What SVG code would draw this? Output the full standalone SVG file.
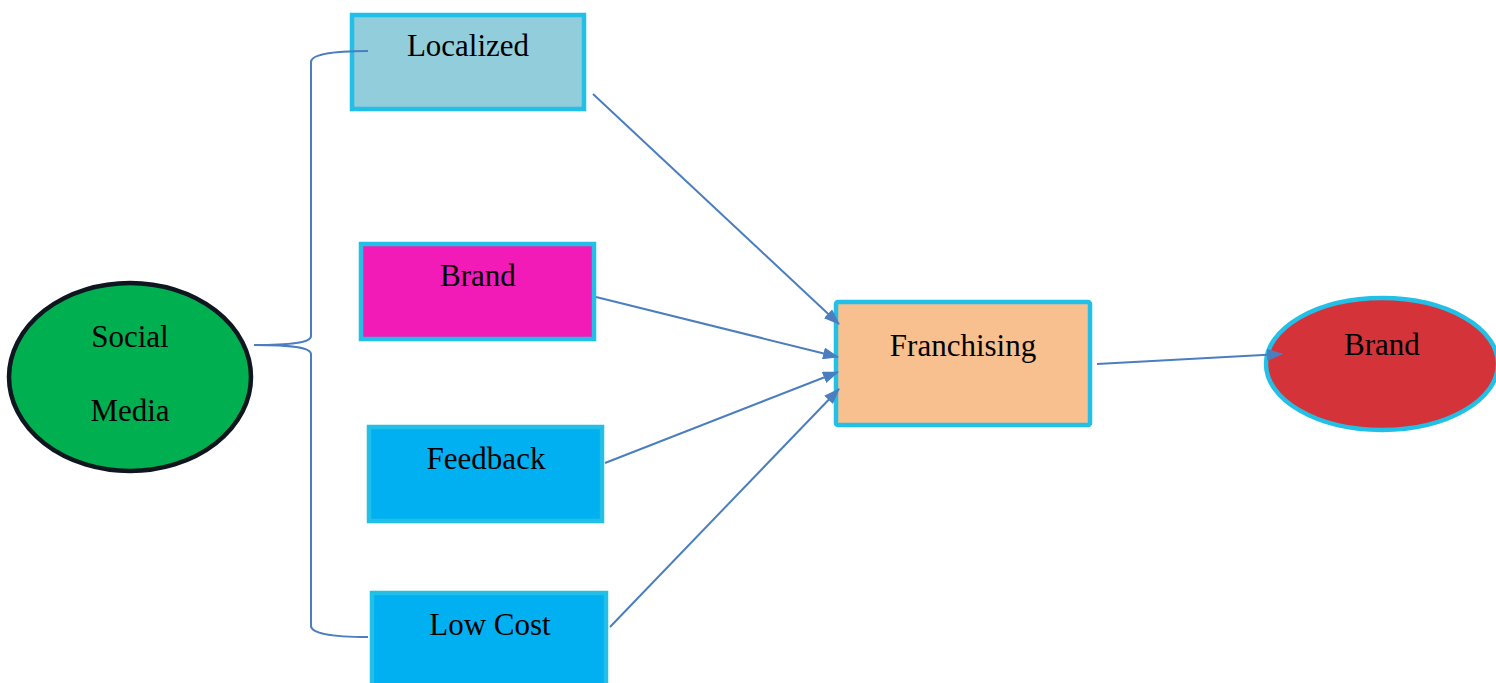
<svg xmlns="http://www.w3.org/2000/svg" width="1496" height="683" viewBox="0 0 1496 683">
<style>
.box{stroke:#22BFE6;stroke-width:4.5}
.lbl{font-family:"Liberation Serif","Times New Roman",serif;font-size:31px;fill:#000;text-anchor:middle}
.conn{fill:none;stroke:#4A7EBF;stroke-width:2}
</style>
<defs>
<marker id="arr" viewBox="0 0 16 12" refX="15" refY="6" markerWidth="16" markerHeight="12" markerUnits="userSpaceOnUse" orient="auto"><path d="M0,0 L16,6 L0,12 z" fill="#4A7EBF"/></marker>
</defs>
<rect width="1496" height="683" fill="#fff"/>
<g id="social-media">
<ellipse cx="130" cy="377" rx="121" ry="94" fill="#00AF4F" stroke="#0F1620" stroke-width="4.5"/>
<text class="lbl" x="130" y="347">Social</text>
<text class="lbl" x="130" y="421">Media</text>
</g>
<g id="localized">
<rect class="box" x="352" y="15" width="232" height="94" fill="#92CDDC"/>
<text class="lbl" x="468" y="56">Localized</text>
</g>
<g id="brand-box">
<rect class="box" x="361" y="244" width="233" height="95" fill="#F21BB8"/>
<text class="lbl" x="478" y="286">Brand</text>
</g>
<g id="feedback">
<rect class="box" x="369" y="427" width="233" height="94" fill="#00B0F0"/>
<text class="lbl" x="486" y="469">Feedback</text>
</g>
<g id="low-cost">
<rect class="box" x="372" y="593" width="234" height="100" fill="#00B0F0"/>
<text class="lbl" x="490" y="635">Low Cost</text>
</g>
<g id="franchising">
<rect class="box" x="836" y="302" width="254" height="123" fill="#F8C08F" rx="2"/>
<text class="lbl" x="963" y="356">Franchising</text>
</g>
<g id="brand-ellipse">
<ellipse cx="1382" cy="364" rx="116" ry="66" fill="#D5333A" stroke="#22BFE6" stroke-width="4.5"/>
<text class="lbl" x="1382" y="355">Brand</text>
</g>
<g id="connectors">
<path class="conn" d="M254,345 C290,345 311,343 311,336 L311,62 C311,55 330,51 368,51"/>
<path class="conn" d="M254,345 C290,345 311,347 311,354 L311,626 C311,633 330,637 368,637"/>
<line class="conn" x1="593" y1="94" x2="839" y2="324" marker-end="url(#arr)"/>
<line class="conn" x1="596" y1="297" x2="838" y2="357" marker-end="url(#arr)"/>
<line class="conn" x1="605" y1="463" x2="838" y2="372" marker-end="url(#arr)"/>
<line class="conn" x1="610" y1="627" x2="839" y2="389" marker-end="url(#arr)"/>
<line class="conn" x1="1097" y1="364" x2="1282" y2="354" marker-end="url(#arr)"/>
</g>
</svg>
